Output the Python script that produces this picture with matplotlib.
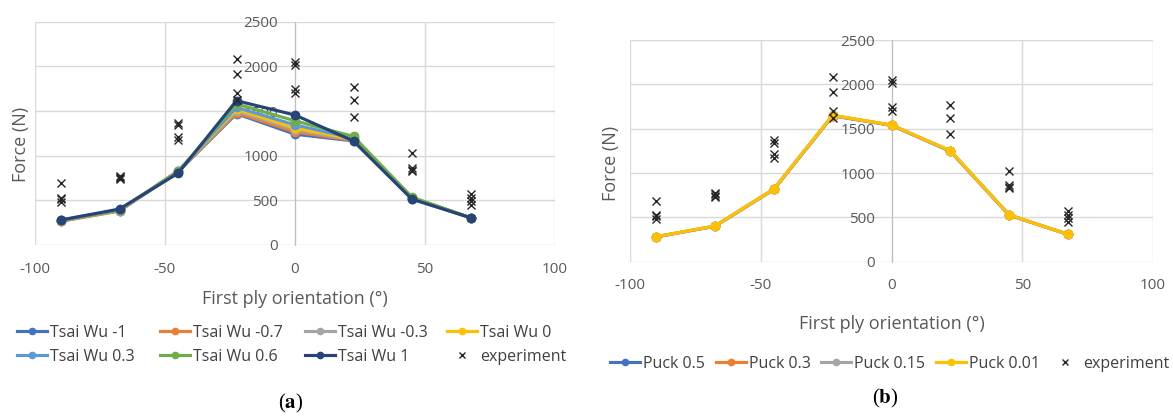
import matplotlib
matplotlib.use("Agg")
import matplotlib.pyplot as plt
from matplotlib.lines import Line2D

plt.rcParams["font.family"] = ["Open Sans", "DejaVu Sans"]
plt.rcParams["mathtext.fontset"] = "stix"
plt.rcParams["axes.unicode_minus"] = False

# ply orientations of the simulated points
angles = [-90, -67.5, -45, -22.5, 0, 22.5, 45, 67.5]

# Tsai Wu failure criterion, one series per interaction coefficient
tsai_labels = ["Tsai Wu -1", "Tsai Wu -0.7", "Tsai Wu -0.3", "Tsai Wu 0",
               "Tsai Wu 0.3", "Tsai Wu 0.6", "Tsai Wu 1"]
tsai_values = [
    [270, 385, 820, 1470, 1240, 1165, 520, 305],
    [265, 380, 825, 1480, 1265, 1170, 525, 305],
    [270, 385, 830, 1500, 1290, 1175, 530, 305],
    [275, 390, 830, 1520, 1310, 1185, 530, 305],
    [275, 390, 825, 1540, 1345, 1195, 530, 305],
    [280, 395, 815, 1580, 1390, 1215, 535, 305],
    [280, 403, 803, 1616, 1455, 1164, 512, 306],
]
tsai_colors = ["#4472C4", "#ED7D31", "#A5A5A5", "#FFC000",
               "#5B9BD5", "#70AD47", "#264478"]

# Puck failure criterion
puck_labels = ["Puck 0.5", "Puck 0.3", "Puck 0.15", "Puck 0.01"]
puck_values = [
    [280, 400, 815, 1645, 1538, 1245, 525, 308],
    [281, 401, 817, 1647, 1539, 1248, 526, 308],
    [281, 402, 818, 1649, 1540, 1250, 527, 309],
    [282, 403, 820, 1651, 1541, 1252, 527, 309],
]
puck_colors = ["#4472C4", "#ED7D31", "#A5A5A5", "#FFC000"]

# experimental results (several specimens per orientation)
exp_angles = [-90, -90, -90, -90,
              -67.5, -67.5, -67.5, -67.5,
              -45, -45, -45, -45,
              -22.5, -22.5, -22.5, -22.5,
              0, 0, 0, 0,
              22.5, 22.5, 22.5,
              45, 45, 45, 45,
              67.5, 67.5, 67.5, 67.5]
exp_force = [690, 530, 510, 480,
             775, 760, 745, 735,
             1370, 1340, 1210, 1170,
             2080, 1910, 1700, 1620,
             2050, 2010, 1750, 1700,
             1765, 1620, 1435,
             1025, 860, 845, 830,
             570, 530, 490, 450]

grid_c = "#D9D9D9"
txt_c = "#595959"
W, H = 1173, 416

fig = plt.figure(figsize=(W / 100, H / 100), dpi=100)


def style_axes(ax):
    ax.set_xlim(-100, 100)
    ax.set_ylim(0, 2500)
    ax.set_xticks([-100, -50, 0, 50, 100])
    ax.set_yticks([0, 500, 1000, 1500, 2000, 2500])
    ax.grid(True, color=grid_c, lw=1)
    ax.set_axisbelow(True)
    for s in ["top", "right", "bottom"]:
        ax.spines[s].set_visible(False)
    ax.spines["left"].set_position(("data", 0))
    ax.spines["left"].set_color("#BFBFBF")
    ax.tick_params(length=0, labelsize=11, colors=txt_c)
    ax.tick_params(axis="x", pad=12)
    ax.tick_params(axis="y", pad=12)
    ax.set_xlabel("First ply orientation (°)", fontsize=13, color=txt_c)
    ax.set_ylabel("Force (N)", fontsize=13, color=txt_c)


def series_handle(c):
    return Line2D([], [], color=c, lw=2.25, marker="o", ms=4.5)


def exp_handle():
    return Line2D([], [], ls="none", marker="x", color="#262626", ms=5, mew=1)


def legend_column(handles, labels, x_px, top_px):
    # one Excel-like legend column, anchored at a pixel position
    fig.legend(handles, labels, loc="upper left",
               bbox_to_anchor=(x_px / W, 1 - top_px / H),
               frameon=False, fontsize=11.5, handlelength=1.9,
               handletextpad=0.15, labelspacing=0.5, borderpad=0,
               borderaxespad=0, labelcolor="#404040")


# (a) Tsai Wu
ax1 = fig.add_axes([35 / W, 1 - 245 / H, 520 / W, 223.3 / H])
style_axes(ax1)
for vals, lab, c in zip(tsai_values, tsai_labels, tsai_colors):
    ax1.plot(angles, vals, color=c, lw=2.25, marker="o", ms=6, label=lab, zorder=3)
ax1.plot(exp_angles, exp_force, ls="none", marker="x", color="#262626",
         ms=5.5, mew=1, zorder=4)
ax1.xaxis.set_label_coords(0.5, -0.2)
ax1.yaxis.set_label_coords(-0.01, 0.45)

h1 = [series_handle(c) for c in tsai_colors] + [exp_handle()]
l1 = tsai_labels + ["experiment"]
for col, x in enumerate([17, 160, 305, 447]):
    legend_column([h1[col], h1[col + 4]], [l1[col], l1[col + 4]], x, 325)

# (b) Puck
ax2 = fig.add_axes([630 / W, 1 - 261.7 / H, 523 / W, 221.7 / H])
style_axes(ax2)
for vals, lab, c in zip(puck_values, puck_labels, puck_colors):
    ax2.plot(angles, vals, color=c, lw=2.25, marker="o", ms=6, label=lab, zorder=3)
ax2.plot(exp_angles, exp_force, ls="none", marker="x", color="#262626",
         ms=5.5, mew=1, zorder=4)
ax2.xaxis.set_label_coords(0.5, -0.24)
ax2.yaxis.set_label_coords(-0.02, 0.443)

h2 = [series_handle(c) for c in puck_colors] + [exp_handle()]
l2 = puck_labels + ["experiment"]
for h, lab, x in zip(h2, l2, [610, 716, 821, 936, 1050]):
    legend_column([h], [lab], x, 356)

fig.text(291 / W, 1 - 403 / H, r"($\mathbf{a}$)", fontsize=15, ha="center",
         va="center", family="Liberation Serif")
fig.text(885 / W, 1 - 398 / H, r"($\mathbf{b}$)", fontsize=15, ha="center",
         va="center", family="Liberation Serif")

fig.savefig("out.png", dpi=100)
